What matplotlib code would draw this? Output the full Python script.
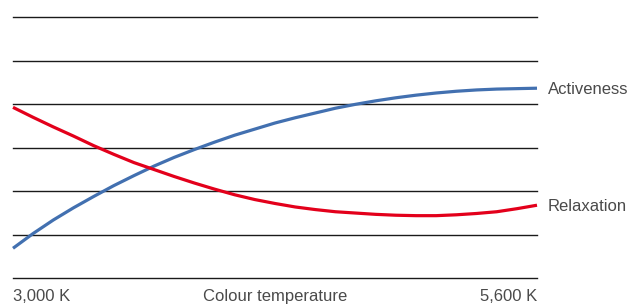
import numpy as np
import matplotlib.pyplot as plt

plt.rcParams['font.family'] = ['Liberation Sans', 'DejaVu Sans']

# colour temperature (K) and read-off values (grid units 0..6)
temps = [3000, 3100, 3200, 3300, 3400, 3500, 3600, 3700, 3800, 3900,
         4000, 4100, 4200, 4300, 4400, 4500, 4600, 4700, 4800, 4900,
         5000, 5100, 5200, 5300, 5400, 5500, 5600]
activeness = [0.69, 1.03, 1.34, 1.62, 1.88, 2.13, 2.36, 2.58, 2.78, 2.96,
              3.13, 3.29, 3.43, 3.57, 3.69, 3.80, 3.91, 4.00, 4.08, 4.15,
              4.21, 4.26, 4.30, 4.33, 4.35, 4.36, 4.37]
relaxation = [3.93, 3.70, 3.48, 3.27, 3.05, 2.85, 2.66, 2.50, 2.34, 2.19,
              2.05, 1.92, 1.81, 1.72, 1.64, 1.58, 1.53, 1.50, 1.47, 1.45,
              1.44, 1.44, 1.46, 1.49, 1.53, 1.60, 1.68]
grid_levels = [0, 1, 2, 3, 4, 5, 6]

blue = '#4270b0'
red = '#e3001b'
txt = '#4a4a4a'

fig = plt.figure(figsize=(6.3, 3.05), dpi=100)
ax = fig.add_axes([13 / 630, (305 - 278.3) / 305, 524 / 630, 261 / 305])
ax.set_xlim(temps[0], temps[-1])
ax.set_ylim(0, 6)
ax.axis('off')

for g in grid_levels:
    ax.axhline(g, color='#1a1a1a', lw=1.0, clip_on=False, zorder=1)

ax.plot(temps, activeness, color=blue, lw=2.3, clip_on=False, zorder=3,
        solid_capstyle='butt', solid_joinstyle='round')
ax.plot(temps, relaxation, color=red, lw=2.3, clip_on=False, zorder=3,
        solid_capstyle='butt', solid_joinstyle='round')

# series labels at right end
fs = 12
ax.annotate('Activeness', xy=(temps[-1], activeness[-1]), xytext=(11, -1),
            textcoords='offset pixels', va='center', ha='left', color=txt, fontsize=fs)
ax.annotate('Relaxation', xy=(temps[-1], relaxation[-1]), xytext=(11, -1),
            textcoords='offset pixels', va='center', ha='left', color=txt, fontsize=fs)

# x labels below the bottom grid line
ax.annotate('3,000 K', xy=(temps[0], 0), xytext=(0, -18), textcoords='offset pixels',
            ha='left', va='center', color=txt, fontsize=fs)
ax.annotate('5,600 K', xy=(temps[-1], 0), xytext=(0, -18), textcoords='offset pixels',
            ha='right', va='center', color=txt, fontsize=fs)
ax.annotate('Colour temperature', xy=((temps[0] + temps[-1]) / 2, 0), xytext=(0, -18),
            textcoords='offset pixels', ha='center', va='center', color=txt, fontsize=fs)

fig.savefig('out.png', dpi=100)
